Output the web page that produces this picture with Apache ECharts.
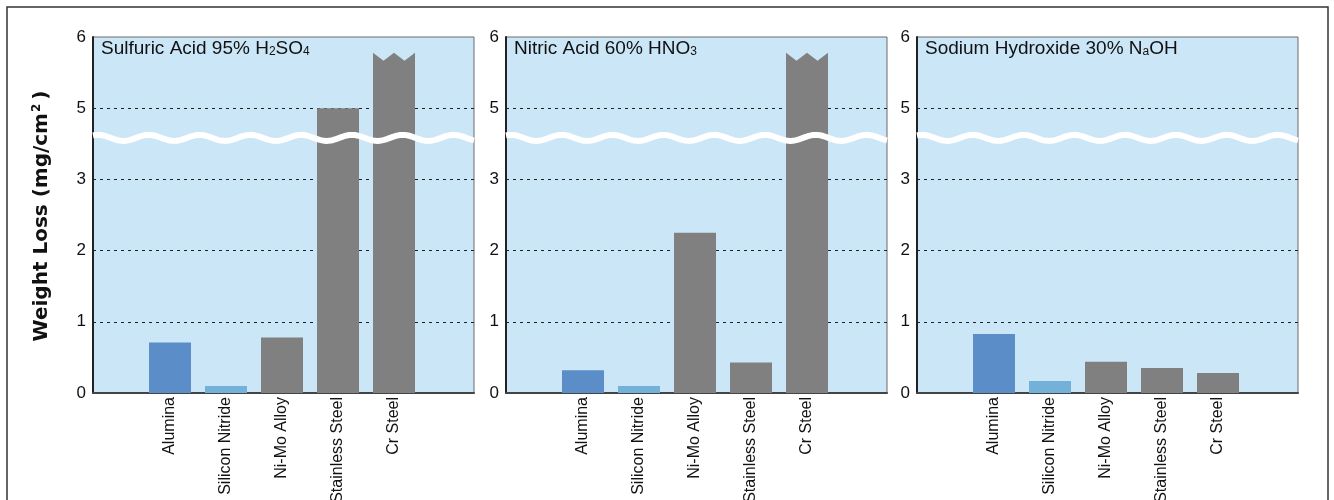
<!DOCTYPE html>
<html><head><meta charset="utf-8">
<script src="https://cdn.jsdelivr.net/npm/echarts@6/dist/echarts.min.js"></script>
<style>html,body{margin:0;padding:0;background:#fff}#c{width:1334px;height:500px}</style>
</head><body><div id="c"></div>
<script>
// ---- data ----
const categories = ['Alumina', 'Silicon Nitride', 'Ni-Mo Alloy', 'Stainless Steel', 'Cr Steel'];
const sulfuricAcid = [0.71, 0.10, 0.78, 5.0, 5.78];
const nitricAcid = [0.32, 0.10, 2.25, 0.43, 5.78];
const sodiumHydroxide = [0.83, 0.17, 0.44, 0.35, 0.28];
const offScale = [[false, false, false, false, true], [false, false, false, false, true], [false, false, false, false, false]];
const yTickLabels = ['0', '1', '2', '3', '5', '6'];
const panelTitles = [
  'Sulfuric Acid 95% H{s|2}SO{s|4}',
  'Nitric Acid 60% HNO{s|3}',
  'Sodium Hydroxide 30% N{s|a}OH'
];
const yAxisTitle = 'Weight Loss (mg/cm{sup|2})';
const breakDisplay = 3.583; // where the axis-break wave sits (display units)

// ---- styles ----
const barColors = ['#5B8DC8', '#74B1D8', '#808080', '#808080', '#808080'];
const plotBg = '#CBE6F7';
const fontMain = "'Liberation Sans', Arial, sans-serif";

// broken axis: 0..3 linear, 3..5 squeezed into one step, 5..6 one step
function toDisplay(v) {
  if (v <= 3) return v;
  if (v >= 5) return v - 1;
  return 3 + (v - 3) / 2;
}

const panels = [sulfuricAcid, nitricAcid, sodiumHydroxide];
const lefts = [93, 506, 917];
const xCats = [''].concat(categories).concat(['']);

const grids = [], xAxes = [], yAxes = [], series = [], titles = [];
panels.forEach((vals, p) => {
  const gBg = 2 * p, gBar = 2 * p + 1;
  // plot frame / y axis grid
  grids.push({left: lefts[p], top: 37, width: 381, height: 356, show: true, containLabel: false,
    outerBoundsMode: 'none',
    backgroundColor: plotBg, borderColor: '#6a6a6a', borderWidth: 1});
  // bar grid (category band of 56px)
  grids.push({left: lefts[p] - 7, top: 37, width: 392, height: 356, show: false, containLabel: false,
    outerBoundsMode: 'none'});

  xAxes.push({type: 'value', gridIndex: gBg, min: 0, max: 1, show: true,
    axisLine: {onZero: false, lineStyle: {color: '#444', width: 2}},
    axisTick: {show: false}, axisLabel: {show: false}, splitLine: {show: false}});
  xAxes.push({type: 'category', gridIndex: gBar, data: xCats,
    axisTick: {show: false},
    axisLine: {show: false},
    axisLabel: {interval: 0, rotate: 90, margin: 4, fontSize: 16, color: '#111', fontFamily: fontMain}});

  yAxes.push({type: 'value', gridIndex: gBg, min: 0, max: 5, interval: 1,
    axisLine: {show: true, lineStyle: {color: '#222', width: 2}},
    axisTick: {show: false},
    axisLabel: {formatter: v => yTickLabels[v], fontSize: 17, color: '#111', margin: 7, fontFamily: fontMain},
    splitLine: {show: true, showMinLine: false, showMaxLine: false,
      lineStyle: {color: '#222', width: 1, type: [3, 4]}}});
  yAxes.push({type: 'value', gridIndex: gBar, min: 0, max: 5, interval: 1, show: false,
    splitLine: {show: false}});

  series.push({type: 'custom', xAxisIndex: gBar, yAxisIndex: gBar, z: 3,
    data: vals.map((v, i) => [i + 1, toDisplay(v), offScale[p][i] ? 1 : 0]),
    encode: {x: 0, y: 1},
    renderItem: function (params, api) {
      const idx = api.value(0), dv = api.value(1), broken = api.value(2);
      const top = api.coord([idx, dv]);
      const base = api.coord([idx, 0]);
      const band = api.size([1, 0])[0];
      const w = band * 0.75;
      const x0 = top[0] - w / 2, x1 = top[0] + w / 2;
      const color = barColors[idx - 1];
      if (broken) {
        const n = 8;
        return {type: 'polygon', shape: {points: [
          [x0, base[1]], [x0, top[1]], [x0 + w / 4, top[1] + n], [x0 + w / 2, top[1]],
          [x0 + 3 * w / 4, top[1] + n], [x1, top[1]], [x1, base[1]]]}, style: {fill: color}};
      }
      return {type: 'rect', shape: {x: x0, y: top[1], width: w, height: base[1] - top[1]}, style: {fill: color}};
    }});
  series.push({type: 'custom', xAxisIndex: gBg, yAxisIndex: gBg, z: 5, silent: true,
    data: [[0, breakDisplay]], encode: {x: 0, y: 1},
    renderItem: function (params, api) {
      const cs = params.coordSys;
      const yc = api.coord([0, breakDisplay])[1];
      const period = 50.8, amp = 3, pts = [];
      for (let x = cs.x; x <= cs.x + cs.width + 0.01; x += 1) {
        pts.push([x, yc - amp * Math.cos(2 * Math.PI * (x - cs.x - 5) / period)]);
      }
      return {type: 'polyline', shape: {points: pts}, style: {stroke: '#fff', lineWidth: 6, fill: null}};
    }});
  titles.push({text: panelTitles[p], left: lefts[p] + 8, top: 39, padding: 0,
    textStyle: {fontSize: 19, fontWeight: 'normal', color: '#111', fontFamily: fontMain,
      rich: {s: {fontSize: 12, fontFamily: fontMain, color: '#111', verticalAlign: 'bottom'}}}});
});

const chart = echarts.init(document.getElementById('c'), null, {renderer: 'canvas'});
chart.setOption({
  animation: false,
  backgroundColor: '#fff',
  title: titles,
  grid: grids, xAxis: xAxes, yAxis: yAxes, series: series,
  graphic: [
    {type: 'rect', shape: {x: 7, y: 7, width: 1321, height: 600}, style: {fill: null, stroke: '#333', lineWidth: 1.5}, z: 0},
    {type: 'text', x: 42, y: 216, rotation: Math.PI / 2, z: 10,
      style: {text: yAxisTitle, fontSize: 20, fontWeight: 'bold', fontFamily: "'DejaVu Sans', sans-serif",
        fill: '#111', align: 'center', verticalAlign: 'middle',
        rich: {sup: {fontSize: 12, fontWeight: 'bold', fontFamily: "'DejaVu Sans', sans-serif", fill: '#111', verticalAlign: 'top', padding: [0, 4, 10, 1]}}}}
  ]
});
</script></body></html>
